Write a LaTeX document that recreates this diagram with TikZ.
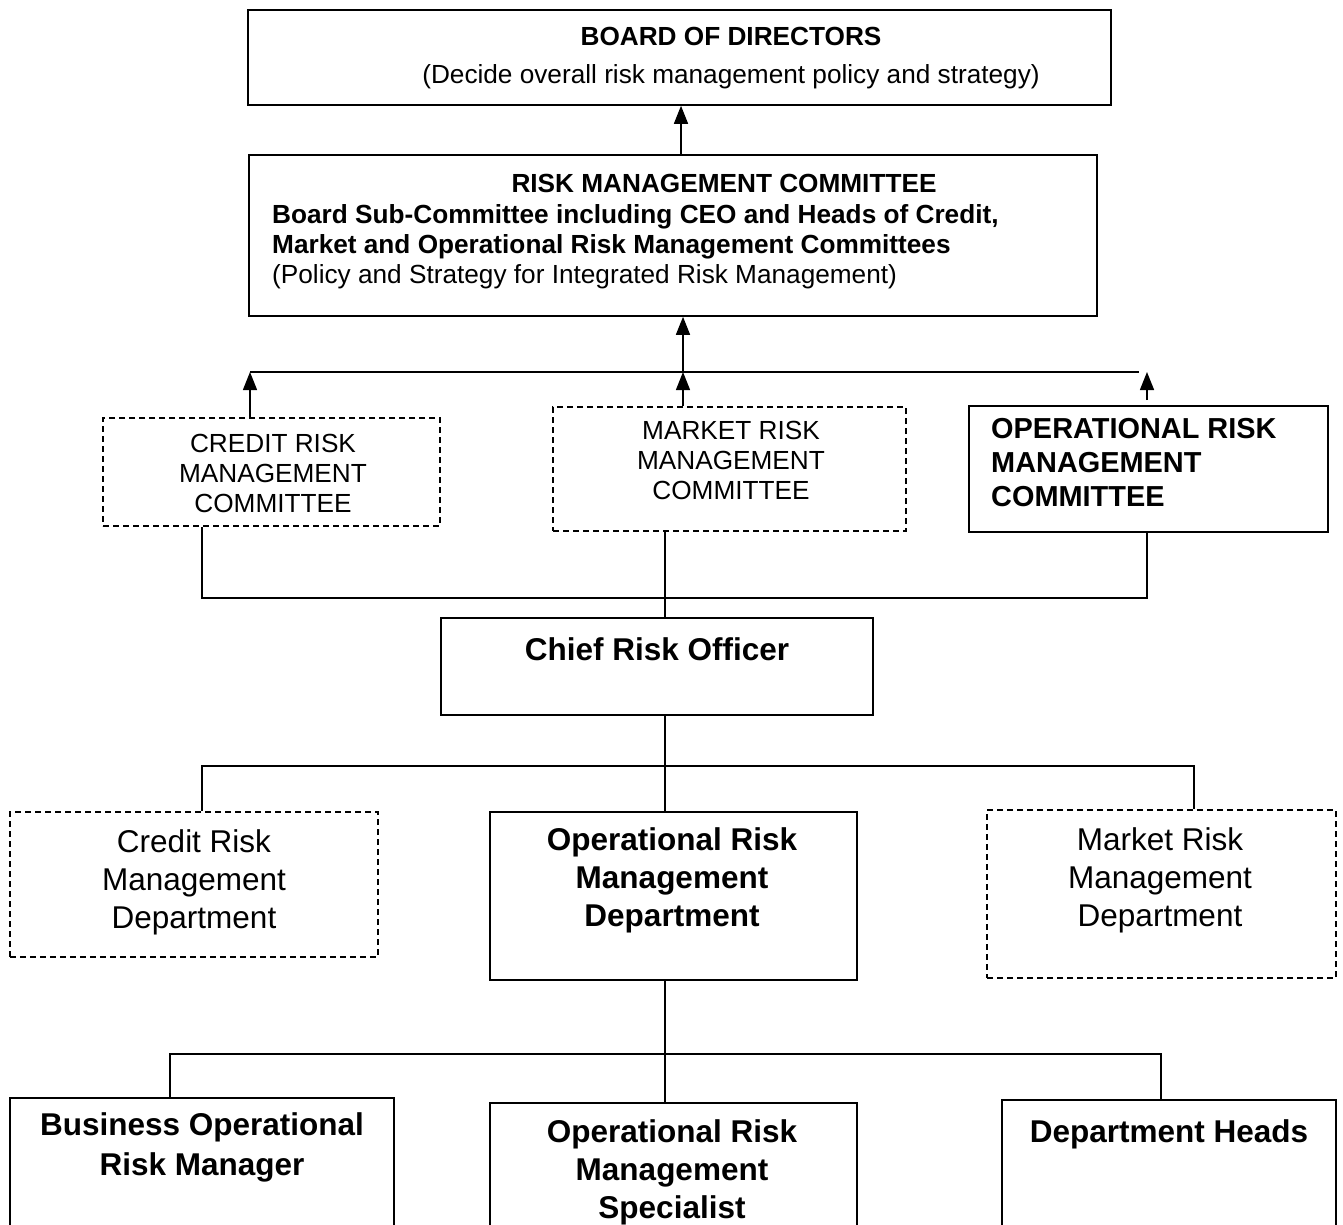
\documentclass[tikz,border=0pt]{standalone}
\usepackage{fontspec}
\setmainfont{Liberation Sans}
\usepackage{tikz}
\usetikzlibrary{arrows.meta, calc}

\begin{document}
\begin{tikzpicture}[x=1pt, y=-1pt,
        box/.style={draw, line width=1.6pt, inner sep=0pt},
        dbox/.style={box, dash pattern=on 6pt off 4pt},
        txt/.style={inner sep=0pt, align=center, anchor=north},
        small/.style={font=\fontsize{26.2}{30}\selectfont},
        smallbf/.style={font=\fontsize{26.2}{30}\selectfont\bfseries},
        medium/.style={font=\fontsize{28.9}{34}\selectfont\bfseries},
        large/.style={font=\fontsize{31.5}{38}\selectfont},
        largebf/.style={font=\fontsize{31.5}{38}\selectfont\bfseries},
        line/.style={line width=1.4pt},
        arr/.style={line, -{Triangle[length=18pt,width=14pt]}}]
    \path[use as bounding box, clip] (0,0) rectangle (1343,1224);

    % boxes
    \node[box, minimum width=863pt, minimum height=95pt] (board) at (679.5,57.5) {};
    \node[box, minimum width=848pt, minimum height=161pt] (rmc) at (673,235.5) {};
    \node[dbox, minimum width=337pt, minimum height=108pt] (ccom) at (271.5,472) {};
    \node[dbox, minimum width=353pt, minimum height=124pt] (mcom) at (729.5,469) {};
    \node[box, minimum width=359pt, minimum height=126pt] (ocom) at (1148.5,469) {};
    \node[box, minimum width=432pt, minimum height=97pt] (cro) at (657,666.5) {};
    \node[dbox, minimum width=368pt, minimum height=145pt] (cdep) at (194,884.5) {};
    \node[box, minimum width=367pt, minimum height=168pt] (opd) at (673.5,896) {};
    \node[dbox, minimum width=349pt, minimum height=168pt] (mdep) at (1161.5,894) {};
    \node[box, minimum width=384pt, minimum height=150pt] (borm) at (202,1173) {};
    \node[box, minimum width=367pt, minimum height=150pt] (ops) at (673.5,1178) {};
    \node[box, minimum width=334pt, minimum height=150pt] (dh) at (1169,1175) {};

    % texts
    \node[txt, small] (boardtxt) at (731,27) {\textbf{BOARD OF DIRECTORS}\\[8pt](Decide overall risk management policy and strategy)};
    \node[txt, smallbf] (rmctitle) at (724,174) {RISK MANAGEMENT COMMITTEE};
    \node[txt, small, align=left, anchor=north west] (rmcbody) at (272,204) {\textbf{Board Sub-Committee including CEO and Heads of Credit,}\\\textbf{Market and Operational Risk Management Committees}\\(Policy and Strategy for Integrated Risk Management)};
    \node[txt, small] (ccomtxt) at (273,434) {CREDIT RISK\\MANAGEMENT\\COMMITTEE};
    \node[txt, small] (mcomtxt) at (731,421) {MARKET RISK\\MANAGEMENT\\COMMITTEE};
    \node[txt, medium, align=left, anchor=north west] (ocomtxt) at (991,418) {OPERATIONAL RISK\\MANAGEMENT\\COMMITTEE};
    \node[txt, largebf] (crotxt) at (657,637) {Chief Risk Officer};
    \node[txt, large] (cdeptxt) at (194,829) {Credit Risk\\Management\\Department};
    \node[txt, largebf] (opdtxt) at (672,827) {Operational Risk\\Management\\Department};
    \node[txt, large] (mdeptxt) at (1160,827) {Market Risk\\Management\\Department};
    \node[txt, largebf] (bormtxt) at (202,1112) {Business Operational\\[2pt]Risk Manager};
    \node[txt, largebf] (opstxt) at (672,1119) {Operational Risk\\Management\\Specialist};
    \node[txt, largebf] (dhtxt) at (1169,1119) {Department Heads};

    % junctions
    \coordinate (up) at (681,130);
    \coordinate (ja) at (250,372);
    \coordinate (jb) at (683,372);
    \coordinate (jc) at (1139,372);
    \coordinate (jd) at (1147,372);
    \coordinate (jl) at (202,598);
    \coordinate (jr) at (1147,598);
    \coordinate (spine) at (665,766);
    \coordinate (kl) at (202,766);
    \coordinate (kr) at (1194,766);
    \coordinate (ml) at (170,1054);
    \coordinate (mr) at (1161,1054);

    % connectors
    \draw[arr] (rmc.north -| up) -- (board.south -| up);
    \draw[arr] (jb) -- (rmc.south -| jb);
    \draw[line] (ja) -- (jc);
    \draw[arr] (ccom.north -| ja) -- (ja);
    \draw[arr] (mcom.north -| jb) -- (jb);
    \draw[arr, shorten <=5pt] (ocom.north -| jd) -- (jd);
    \draw[line] (ccom.south -| jl) -- (jl) -- (jr) -- (ocom.south -| jr);
    \draw[line] (mcom.south -| spine) -- (cro.north -| spine);
    \draw[line] (cro.south -| spine) -- (opd.north -| spine);
    \draw[line] (cdep.north -| kl) -- (kl) -- (kr) -- (mdep.north -| kr);
    \draw[line] (opd.south -| spine) -- (ops.north -| spine);
    \draw[line] (borm.north -| ml) -- (ml) -- (mr) -- (dh.north -| mr);
\end{tikzpicture}
\end{document}
